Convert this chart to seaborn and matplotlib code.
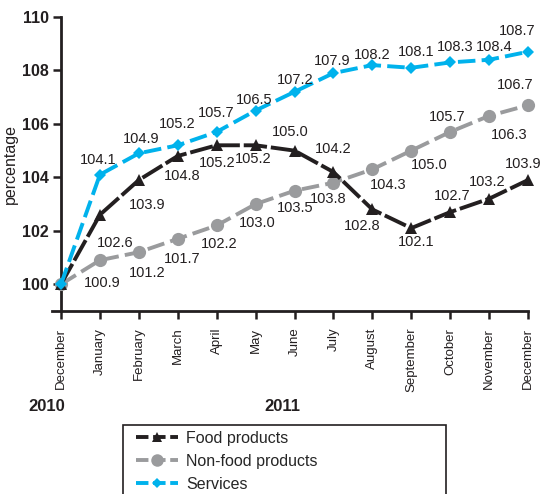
import matplotlib
matplotlib.use("Agg")
import matplotlib.pyplot as plt
import seaborn as sns
import pandas as pd
from matplotlib.patches import Rectangle
from matplotlib.lines import Line2D

months = ["December", "January", "February", "March", "April", "May", "June",
          "July", "August", "September", "October", "November", "December"]
food = [100.0, 102.6, 103.9, 104.8, 105.2, 105.2, 105.0, 104.2, 102.8, 102.1, 102.7, 103.2, 103.9]
nonfood = [100.0, 100.9, 101.2, 101.7, 102.2, 103.0, 103.5, 103.8, 104.3, 105.0, 105.7, 106.3, 106.7]
services = [100.0, 104.1, 104.9, 105.2, 105.7, 106.5, 107.2, 107.9, 108.2, 108.1, 108.3, 108.4, 108.7]
series_names = ["Food products", "Non-food products", "Services"]
year_labels = ["2010", "2011"]

sns.set_style("white")
plt.rcParams["font.family"] = ["Liberation Sans", "DejaVu Sans"]

C_FOOD = "#231f20"
C_NON = "#9a9b9d"
C_SERV = "#00b2ec"
C_TXT = "#231f20"

df = pd.DataFrame({"idx": list(range(len(months))), "food": food,
                   "nonfood": nonfood, "services": services})

fig = plt.figure(figsize=(5.4, 4.94), dpi=100)
W, H = 540, 494
ax = fig.add_axes([61 / W, 1 - 311 / H, 467 / W, 294 / H])

LW = 2.8
sns.lineplot(data=df, x="idx", y="nonfood", ax=ax, color=C_NON, lw=LW,
             linestyle=(0, (4.5, 1.6)), marker="o", markersize=9.5,
             markeredgewidth=0, clip_on=False, zorder=3)
sns.lineplot(data=df, x="idx", y="food", ax=ax, color=C_FOOD, lw=LW,
             linestyle=(0, (6, 1.0)), marker="^", markersize=8.5,
             markeredgewidth=0, clip_on=False, zorder=4)
sns.lineplot(data=df, x="idx", y="services", ax=ax, color=C_SERV, lw=LW,
             linestyle=(0, (4.5, 1.6)), marker="D", markersize=6.5,
             markeredgewidth=0, clip_on=False, zorder=5)

# label offsets in pixels (dx, dy downward)
serv_off = [None, (-2, -15), (2, -14), (-1, -21), (0, -19), (-1, -11), (1, -12),
            (-1, -12), (0, -10), (5, -16), (5, -15), (5, -13), (-11, -21)]
food_off = [None, (15, 28), (8, 25), (4, 20), (1, 18), (-2, 14), (-4, -19),
            (0, -23), (-10, 17), (5, 14), (2, -16), (-2, -17), (-5, -16)]
non_off = [None, (2, 23), (8, 21), (4, 20), (3, 19), (2, 19), (1, 17),
           (-5, 16), (16, 16), (18, 14), (-3, -15), (20, 19), (-13, -20)]

def label(vals, offs):
    for i, (v, o) in enumerate(zip(vals, offs)):
        if o is None:
            continue
        ax.annotate(f"{v:.1f}", (i, v), xytext=(o[0], -o[1]),
                    textcoords="offset pixels", ha="center", va="center",
                    fontsize=10.5, color=C_TXT, zorder=6)

label(services, serv_off)
label(food, food_off)
label(nonfood, non_off)

ax.set_xlim(0, 12)
ax.set_ylim(99, 110)
ax.set_yticks([100, 102, 104, 106, 108, 110])
ax.set_yticklabels(["100", "102", "104", "106", "108", "110"], fontweight="bold",
                   fontsize=11.5, color=C_TXT)
ax.set_xticks(range(len(months)))
ax.set_xticklabels(months, rotation=90, fontsize=9.5, color=C_TXT)
ax.tick_params(axis="both", direction="out", length=6, width=1.8, color=C_TXT,
               left=True, bottom=True)
ax.tick_params(axis="y", pad=3)
ax.tick_params(axis="x", pad=6)
ax.set_xlabel("")
ax.set_ylabel("percentage", fontsize=11.5, color=C_TXT, labelpad=3)
for s in ["top", "right"]:
    ax.spines[s].set_visible(False)
for s in ["left", "bottom"]:
    ax.spines[s].set_color(C_TXT)
    ax.spines[s].set_linewidth(2.0)
ax.spines["bottom"].set_bounds(-0.23, 12)
ax.spines["left"].set_bounds(99, 110)

fig.text(47 / W, 1 - 406 / H, year_labels[0], ha="center", va="center",
         fontsize=12, fontweight="bold", color=C_TXT)
fig.text(282 / W, 1 - 406 / H, year_labels[1], ha="center", va="center",
         fontsize=12, fontweight="bold", color=C_TXT)

# legend box
fig.patches.append(Rectangle((123 / W, -0.05), (446 - 123) / W, (1 - 425 / H) + 0.05,
                             transform=fig.transFigure, fill=False,
                             edgecolor=C_TXT, lw=1.2))
handles = [
    Line2D([], [], color=C_FOOD, lw=LW, linestyle=(0, (3.2, 1.2)), marker="^",
           markersize=7, markeredgewidth=0),
    Line2D([], [], color=C_NON, lw=LW, linestyle=(0, (3.2, 1.2)), marker="o",
           markersize=9, markeredgewidth=0),
    Line2D([], [], color=C_SERV, lw=LW, linestyle=(0, (3.2, 1.2)), marker="D",
           markersize=5.5, markeredgewidth=0),
]
fig.legend(handles, series_names, loc="upper left",
           bbox_to_anchor=(136 / W, 1 - 431 / H), frameon=False,
           fontsize=11.5, handlelength=2.6, handletextpad=0.55,
           labelspacing=0.5, borderpad=0, borderaxespad=0)

fig.savefig("out.png", dpi=100)
